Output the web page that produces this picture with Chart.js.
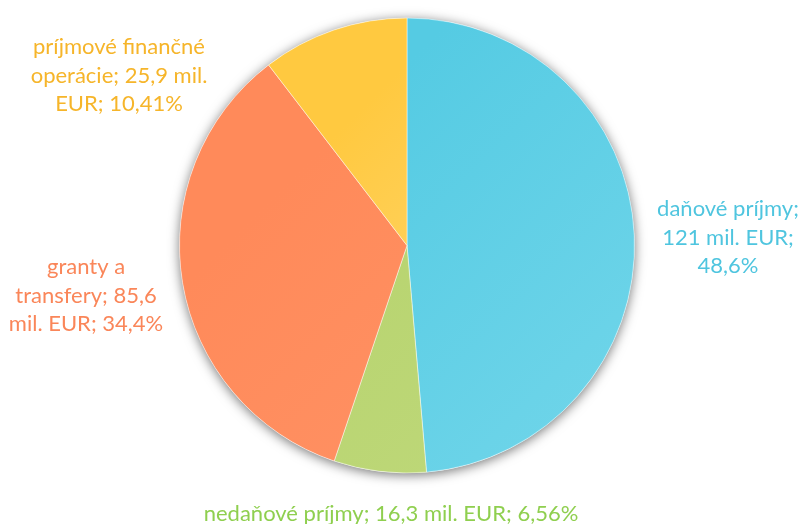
<!DOCTYPE html>
<html>
<head>
<meta charset="utf-8">
<script src="https://cdn.jsdelivr.net/npm/chart.js@4"></script>
<style>
  html, body { margin: 0; padding: 0; background: #fff; }
  #wrap { width: 804px; height: 524px; position: relative; }
</style>
</head>
<body>
<div id="wrap"><canvas id="pie"></canvas></div>
<script>
// Data
const categories = ['daňové príjmy', 'nedaňové príjmy', 'granty a transfery', 'príjmové finančné operácie'];
const valuesMil = [121, 16.3, 85.6, 25.9];
const valueText = ['121', '16,3', '85,6', '25,9'];
const shareText = ['48,6%', '6,56%', '34,4%', '10,41%'];

// Styles
const sliceColors = ['#55cbe3', '#b6d36d', '#ff8a5a', '#ffc940'];
const sliceLight = ['#72d6ea', '#c0d97c', '#ff9467', '#ffdf8a'];
const labelColors = ['#4fc5df', '#8fcf4f', '#fa8659', '#f6b52a'];

// Label layout: lines + centre offset from pie centre (px)
const labelLayout = [
    { lines: ['daňové príjmy;', '121 mil. EUR;', '48,6%'], dx: 321, dy: -8 },
    { lines: ['nedaňové príjmy; 16,3 mil. EUR; 6,56%'], dx: -16, dy: 268 },
    { lines: ['granty a', 'transfery; 85,6', 'mil. EUR; 34,4%'], dx: -321, dy: 50 },
    { lines: ['príjmové finančné', 'operácie; 25,9 mil.', 'EUR; 10,41%'], dx: -288, dy: -170 }
];

const FONT = '22px Lato, "Open Sans", sans-serif';
const LINE_H = 28.5;

// soft shadow behind the whole pie
const shadowPlugin = {
    id: 'pieShadow',
    beforeDatasetsDraw(chart) {
        const arc = chart.getDatasetMeta(0).data[0];
        if (!arc) return;
        const ctx = chart.ctx;
        ctx.save();
        ctx.shadowColor = 'rgba(0,0,0,0.55)';
        ctx.shadowBlur = 12;
        ctx.shadowOffsetY = 2;
        ctx.beginPath();
        ctx.arc(arc.x, arc.y, arc.outerRadius, 0, Math.PI * 2);
        ctx.fillStyle = '#ffffff';
        ctx.fill();
        ctx.restore();
    }
};

// outside labels in slice colours
const labelPlugin = {
    id: 'outsideLabels',
    afterDatasetsDraw(chart) {
        const arc = chart.getDatasetMeta(0).data[0];
        if (!arc) return;
        const ctx = chart.ctx;
        ctx.save();
        ctx.font = FONT;
        ctx.textAlign = 'center';
        ctx.textBaseline = 'middle';
        labelLayout.forEach((lab, i) => {
            ctx.fillStyle = labelColors[i];
            const cx = arc.x + lab.dx;
            const top = arc.y + lab.dy - (lab.lines.length - 1) * LINE_H / 2;
            lab.lines.forEach((t, j) => ctx.fillText(t, cx, top + j * LINE_H));
        });
        ctx.restore();
    }
};

function sliceFill(context) {
    const i = context.dataIndex;
    const area = context.chart.chartArea;
    if (!area) return sliceColors[i];
    const g = context.chart.ctx.createLinearGradient(area.left, area.top, area.right, area.bottom);
    g.addColorStop(0.3, sliceColors[i]);
    g.addColorStop(1, sliceLight[i]);
    return g;
}

new Chart(document.getElementById('pie'), {
    type: 'pie',
    data: {
        labels: categories,
        datasets: [{
            data: valuesMil,
            backgroundColor: sliceFill,
            borderColor: 'rgba(255,255,255,0.45)',
            borderWidth: 1
        }]
    },
    options: {
        responsive: true,
        maintainAspectRatio: false,
        animation: false,
        layout: { padding: { top: 17, bottom: 50, left: 179, right: 169 } },
        plugins: {
            legend: { display: false },
            tooltip: { enabled: false }
        }
    },
    plugins: [shadowPlugin, labelPlugin]
});
</script>
</body>
</html>
